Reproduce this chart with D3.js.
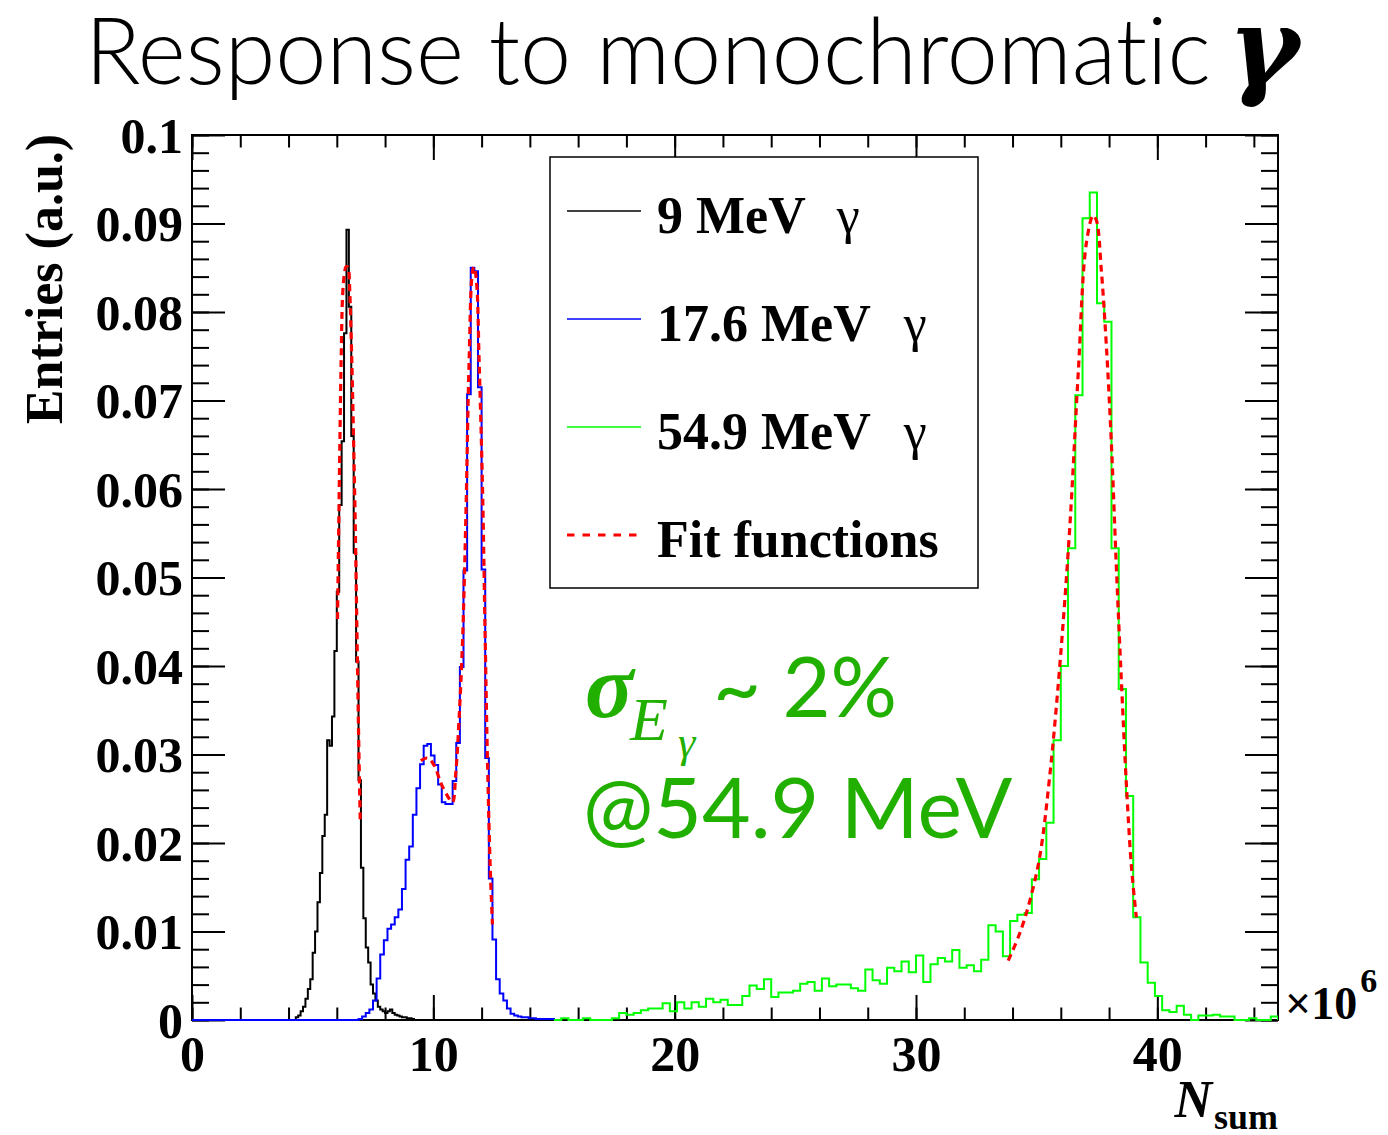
<!DOCTYPE html>
<html>
<head>
<meta charset="utf-8">
<script src="https://cdn.jsdelivr.net/npm/d3@7"></script>
<style>
  html, body { margin: 0; padding: 0; background: #fff; }
  svg { display: block; }
  text { font-variant-ligatures: none; }
</style>
</head>
<body>
<svg id="chart" width="1388" height="1135"></svg>
<script>
// ---- Histogram data: photon-sum spectra (N_sum in units of 10^6), normalised entries ----
const seriesNames = ["9 MeV", "17.6 MeV", "54.9 MeV"];
const seriesColors = ["#000000", "#0000ff", "#00ff00"];

// 9 MeV γ : 100 bins over [0,10]
const range9 = [0, 10];
const binWidth9 = 0.1;
const firstBin9 = 4.3;
const counts9 = [
  0.0003, 0.0005, 0.0010, 0.0015, 0.0024, 0.0035, 0.0046, 0.0076, 0.0100, 0.0133,
  0.0166, 0.0208, 0.0232, 0.0316, 0.0310, 0.0343, 0.0417, 0.0484, 0.0582, 0.0654,
  0.0776, 0.0893, 0.0806, 0.0660, 0.0528, 0.0405, 0.0271, 0.0172, 0.0115, 0.0082,
  0.0065, 0.0040, 0.0030, 0.0022, 0.0015, 0.0012, 0.0010, 0.0008, 0.0010, 0.0012,
  0.0008, 0.0006, 0.0005, 0.0004, 0.0003, 0.0003, 0.0002, 0.0002, 0.0001
];

// 17.6 MeV γ : 100 bins over [0,15]
const range17 = [0, 15];
const binWidth17 = 0.15;
const firstBin17 = 6.90;
const counts17 = [
  0.0001, 0.0004, 0.0008, 0.0012, 0.0022, 0.0047, 0.0074, 0.0090, 0.0103, 0.0108,
  0.0116, 0.0125, 0.0148, 0.0181, 0.0196, 0.0232, 0.0262, 0.0289, 0.0310, 0.0312,
  0.0299, 0.0288, 0.0266, 0.0246, 0.0244, 0.0244, 0.0270, 0.0313, 0.0399, 0.0508,
  0.0707, 0.0850, 0.0846, 0.0715, 0.0509, 0.0296, 0.0160, 0.0091, 0.0046, 0.0030,
  0.0022, 0.0013, 0.0007, 0.0005, 0.0004, 0.0003, 0.0003, 0.0002, 0.0002, 0.0001,
  0.0001, 0.0001, 0.0001, 0.0001
];

// 54.9 MeV γ : 100 bins over [15,45]
const range55 = [15, 45];
const binWidth55 = 0.3;
const firstBin55 = 15.0;
const counts55 = [
  0.0000, 0.0002, 0.0000, 0.0000, 0.0002, 0.0000, 0.0000, 0.0000, 0.0002, 0.0008,
  0.0006, 0.0008, 0.0011, 0.0013, 0.0013, 0.0019, 0.0010, 0.0020, 0.0013, 0.0020,
  0.0015, 0.0024, 0.0020, 0.0023, 0.0017, 0.0017, 0.0027, 0.0039, 0.0035, 0.0046,
  0.0026, 0.0031, 0.0031, 0.0033, 0.0041, 0.0043, 0.0033, 0.0047, 0.0038, 0.0040,
  0.0040, 0.0036, 0.0033, 0.0057, 0.0045, 0.0041, 0.0059, 0.0055, 0.0066, 0.0054,
  0.0073, 0.0043, 0.0063, 0.0070, 0.0066, 0.0079, 0.0059, 0.0062, 0.0055, 0.0068,
  0.0107, 0.0100, 0.0072, 0.0112, 0.0119, 0.0121, 0.0159, 0.0182, 0.0223, 0.0316,
  0.0400, 0.0533, 0.0706, 0.0906, 0.0935, 0.0810, 0.0789, 0.0533, 0.0374, 0.0253,
  0.0116, 0.0065, 0.0042, 0.0027, 0.0011, 0.0009, 0.0016, 0.0006, 0.0000, 0.0005,
  0.0005, 0.0006, 0.0004, 0.0004, 0.0000, 0.0000, 0.0002, 0.0000, 0.0000, 0.0004
];

// Fitted curves, sampled as [N_sum, entries]
const fit9 = [
  [6.03, 0.0453], [6.07, 0.0537], [6.13, 0.0657], [6.18, 0.0746], [6.24, 0.0818],
  [6.31, 0.0842], [6.38, 0.0851], [6.45, 0.0851], [6.49, 0.0848], [6.54, 0.0821],
  [6.61, 0.0758], [6.68, 0.0675], [6.76, 0.0567], [6.83, 0.0447], [6.90, 0.0328],
  [6.97, 0.0226]
];
const fit17 = [
  [9.48, 0.0293], [9.76, 0.0296], [10.03, 0.0288], [10.31, 0.0268], [10.59, 0.0253],
  [10.79, 0.0246], [10.93, 0.0279], [11.07, 0.0342], [11.21, 0.0428], [11.35, 0.0571],
  [11.48, 0.0742], [11.62, 0.0845], [11.69, 0.0851], [11.79, 0.0834], [11.90, 0.0742],
  [12.04, 0.0599], [12.15, 0.0428], [12.25, 0.0285], [12.36, 0.0170], [12.45, 0.0108]
];
const fit55 = [
  [33.82, 0.0067], [34.30, 0.0098], [34.72, 0.0135], [35.13, 0.0185], [35.55, 0.0278],
  [35.96, 0.0401], [36.37, 0.0556], [36.72, 0.0730], [37.06, 0.0878], [37.34, 0.0909],
  [37.48, 0.0903], [37.68, 0.0847], [37.89, 0.0761], [38.10, 0.0649], [38.30, 0.0513],
  [38.51, 0.0383], [38.72, 0.0265], [38.93, 0.0172], [39.13, 0.0116]
];

// Axis ticks
const xMajorTicks = [0, 10, 20, 30, 40];
const xMinorTicks = d3.range(0, 45.001, 2);
const yMajorTicks = [0, 0.01, 0.02, 0.03, 0.04, 0.05, 0.06, 0.07, 0.08, 0.09, 0.1];
const yMinorTicks = d3.range(0, 0.1001, 0.002);
const yTickLabels = ["0", "0.01", "0.02", "0.03", "0.04", "0.05", "0.06", "0.07", "0.08", "0.09", "0.1"];

// ---- Layout ----
const svg = d3.select("#chart");
const frame = { left: 192, right: 1278, top: 135, bottom: 1020 };
const x = d3.scaleLinear().domain([0, 45]).range([frame.left, frame.right]);
const y = d3.scaleLinear().domain([0, 0.1]).range([frame.bottom, frame.top]);
const serif = "'Liberation Serif', 'Times New Roman', serif";

svg.append("defs").append("clipPath").attr("id", "plotClip")
  .append("rect")
  .attr("x", frame.left).attr("y", frame.top - 2)
  .attr("width", frame.right - frame.left).attr("height", frame.bottom - frame.top + 3);

// ---- Axes (ticks inside the frame on all four sides) ----
function styleAxis(g) {
  g.select(".domain").remove();
  g.selectAll(".tick line").attr("stroke", "#000").attr("stroke-width", 2);
}
svg.append("g").attr("transform", `translate(0,${frame.bottom})`)
  .call(d3.axisBottom(x).tickValues(xMinorTicks).tickSize(-12.5).tickFormat(""))
  .call(styleAxis);
svg.append("g").attr("transform", `translate(0,${frame.bottom})`)
  .call(d3.axisBottom(x).tickValues(xMajorTicks).tickSize(-25).tickPadding(15.5).tickFormat(d3.format("d")))
  .call(styleAxis)
  .call(g => g.selectAll("text").attr("font-family", serif).attr("font-weight", "bold")
    .attr("font-size", 50).attr("fill", "#000"));
svg.append("g").attr("transform", `translate(0,${frame.top})`)
  .call(d3.axisTop(x).tickValues(xMinorTicks).tickSize(-12.5).tickFormat(""))
  .call(styleAxis);
svg.append("g").attr("transform", `translate(0,${frame.top})`)
  .call(d3.axisTop(x).tickValues(xMajorTicks).tickSize(-25).tickFormat(""))
  .call(styleAxis);

svg.append("g").attr("transform", `translate(${frame.left},0)`)
  .call(d3.axisLeft(y).tickValues(yMinorTicks).tickSize(-17).tickFormat(""))
  .call(styleAxis);
svg.append("g").attr("transform", `translate(${frame.left},0)`)
  .call(d3.axisLeft(y).tickValues(yMajorTicks).tickSize(-33).tickPadding(9)
    .tickFormat((d, i) => yTickLabels[i]))
  .call(styleAxis)
  .call(g => g.selectAll("text").attr("font-family", serif).attr("font-weight", "bold")
    .attr("font-size", 50).attr("fill", "#000").attr("dy", "0.34em"));
svg.append("g").attr("transform", `translate(${frame.right},0)`)
  .call(d3.axisRight(y).tickValues(yMinorTicks).tickSize(-17).tickFormat(""))
  .call(styleAxis);
svg.append("g").attr("transform", `translate(${frame.right},0)`)
  .call(d3.axisRight(y).tickValues(yMajorTicks).tickSize(-33).tickFormat(""))
  .call(styleAxis);

// frame
svg.append("rect")
  .attr("x", frame.left).attr("y", frame.top)
  .attr("width", frame.right - frame.left).attr("height", frame.bottom - frame.top)
  .attr("fill", "none").attr("stroke", "#000").attr("stroke-width", 2);

// ---- Histograms as step outlines ----
function histPoints(range, w, first, counts) {
  const n = Math.round((range[1] - range[0]) / w);
  const offset = Math.round((first - range[0]) / w);
  const pts = [[range[0], 0]];
  for (let i = 0; i < n; i++) {
    const j = i - offset;
    const v = (j >= 0 && j < counts.length) ? counts[j] : 0;
    pts.push([range[0] + i * w, v]);
  }
  pts.push([range[1], pts[pts.length - 1][1]]);
  pts.push([range[1], 0]);
  return pts;
}
const stepLine = d3.line().x(d => x(d[0])).y(d => y(d[1])).curve(d3.curveStepAfter);
const plot = svg.append("g").attr("clip-path", "url(#plotClip)");

const histSets = [
  histPoints(range9, binWidth9, firstBin9, counts9),
  histPoints(range17, binWidth17, firstBin17, counts17),
  histPoints(range55, binWidth55, firstBin55, counts55)
];
histSets.forEach((pts, i) => {
  plot.append("path").datum(pts)
    .attr("d", stepLine)
    .attr("fill", "none")
    .attr("stroke", seriesColors[i])
    .attr("stroke-width", 2)
    .attr("stroke-linejoin", "miter");
});

// ---- Fit functions ----
const fitLine = d3.line().x(d => x(d[0])).y(d => y(d[1])).curve(d3.curveCatmullRom.alpha(0.5));
[fit9, fit17, fit55].forEach(f => {
  plot.append("path").datum(f)
    .attr("d", fitLine)
    .attr("fill", "none")
    .attr("stroke", "#ff0000")
    .attr("stroke-width", 3.2)
    .attr("stroke-dasharray", "7,5");
});

// ---- Legend ----
const legend = svg.append("g");
legend.append("rect")
  .attr("x", 550).attr("y", 157).attr("width", 428).attr("height", 431)
  .attr("fill", "#fff").attr("stroke", "#000").attr("stroke-width", 1.5);
const legendRows = [211, 319, 427, 535];
const gammaOffsets = [31, 33, 33];
seriesNames.forEach((name, i) => {
  legend.append("line")
    .attr("x1", 567).attr("x2", 641).attr("y1", legendRows[i]).attr("y2", legendRows[i])
    .attr("stroke", seriesColors[i]).attr("stroke-width", 1.5);
  const t = legend.append("text")
    .attr("x", 657).attr("y", legendRows[i] + 22)
    .attr("font-family", serif).attr("font-size", 52).attr("fill", "#000");
  t.append("tspan").attr("font-weight", "bold").text(name);
  t.append("tspan").attr("dx", gammaOffsets[i]).attr("font-weight", "normal").text("γ");
});
legend.append("line")
  .attr("x1", 567).attr("x2", 641).attr("y1", legendRows[3]).attr("y2", legendRows[3])
  .attr("stroke", "#ff0000").attr("stroke-width", 3).attr("stroke-dasharray", "7.5,8");
legend.append("text")
  .attr("x", 657).attr("y", legendRows[3] + 22)
  .attr("font-family", serif).attr("font-weight", "bold").attr("font-size", 52)
  .text("Fit functions");

// ---- Axis titles ----
svg.append("text")
  .attr("transform", "translate(62,279) rotate(-90)")
  .attr("text-anchor", "middle")
  .attr("font-family", serif).attr("font-weight", "bold").attr("font-size", 52)
  .text("Entries (a.u.)");

const xTitle = svg.append("text")
  .attr("x", 1278).attr("y", 1117).attr("text-anchor", "end")
  .attr("font-family", serif).attr("font-weight", "bold").attr("font-size", 52);
xTitle.append("tspan").attr("font-style", "italic").text("N");
xTitle.append("tspan").attr("font-size", 36).attr("dx", 2).attr("dy", 12).text("sum");

const expo = svg.append("text")
  .attr("x", 1285).attr("y", 1019)
  .attr("font-family", serif).attr("font-weight", "bold").attr("font-size", 46);
expo.append("tspan").text("×10");
expo.append("tspan").attr("font-size", 34).attr("dy", -27).attr("dx", 3).text("6");

// ---- Title ----
const title = svg.append("text")
  .attr("x", 85).attr("y", 84)
  .attr("font-family", "Lato, 'Open Sans', sans-serif").attr("font-weight", 300)
  .attr("font-size", 95).attr("fill", "#000")
  .text("Response to monochromatic");
const tw = title.node().getComputedTextLength();
title.attr("font-size", 95 * 1126 / tw);
svg.append("text")
  .attr("x", 1228).attr("y", 84)
  .attr("font-family", "'DejaVu Serif', serif").attr("font-weight", "bold").attr("font-style", "italic")
  .attr("font-size", 108).attr("fill", "#000")
  .text("γ");

// ---- Resolution annotation ----
const green = "#22b000";
const ann = svg.append("g").attr("fill", green);
ann.append("text").attr("x", 585).attr("y", 717)
  .attr("font-family", serif).attr("font-weight", "bold").attr("font-style", "italic")
  .attr("font-size", 90).text("σ");
ann.append("text").attr("x", 630).attr("y", 740)
  .attr("font-family", serif).attr("font-style", "italic")
  .attr("font-size", 62).text("E");
ann.append("text").attr("x", 678).attr("y", 757)
  .attr("font-family", serif).attr("font-style", "italic")
  .attr("font-size", 44).text("γ");
ann.append("text").attr("x", 713).attr("y", 717)
  .attr("font-family", "Lato, sans-serif").attr("font-size", 83).text("~ 2%");
ann.append("text").attr("x", 583).attr("y", 838)
  .attr("font-family", "Lato, sans-serif").attr("font-size", 84).text("@54.9 MeV");
</script>
</body>
</html>
